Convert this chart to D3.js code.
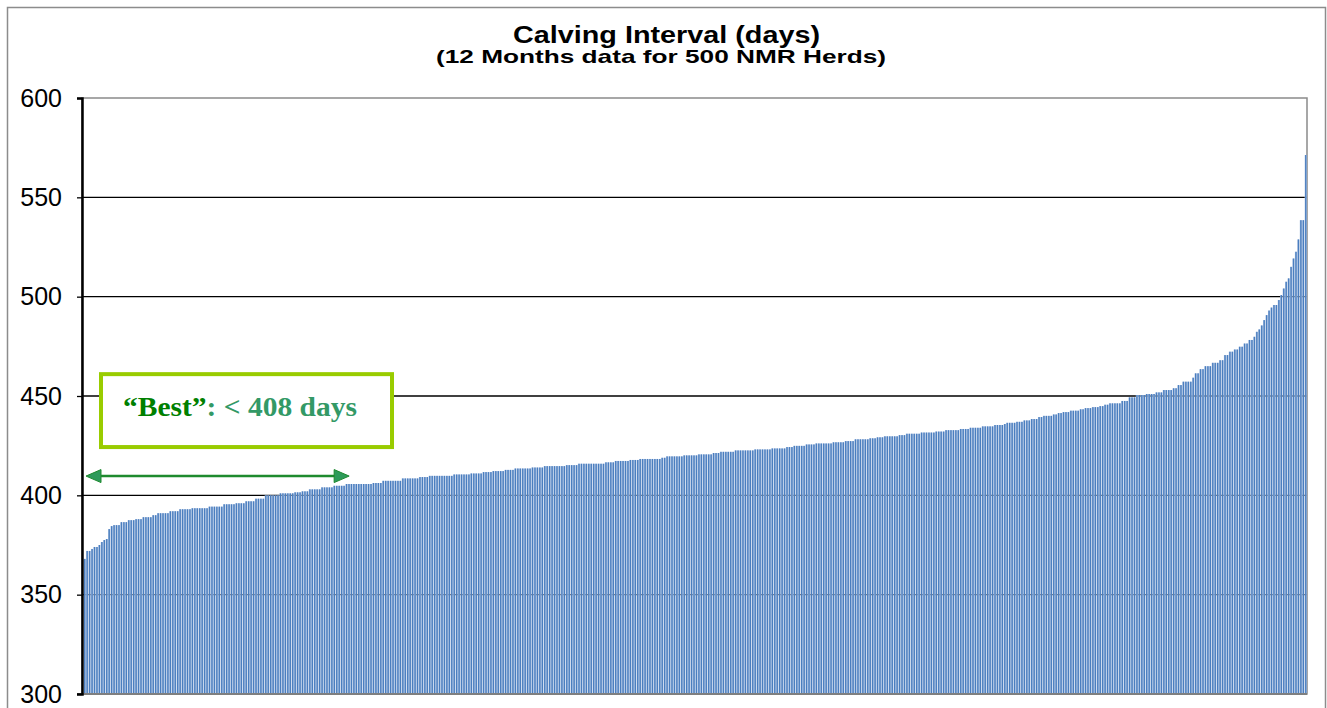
<!DOCTYPE html>
<html>
<head>
<meta charset="utf-8">
<script src="https://cdn.jsdelivr.net/npm/d3@7"></script>
<style>
  body { margin: 0; background: #fff; }
  svg { display: block; }
</style>
</head>
<body>
<div id="chart"></div>
<script>
/**
 * CONSTANTS AND DATA
 * */
const width = 1327,
  height = 708,
  margin = { top: 98, bottom: 14, left: 82, right: 20 };

const title = "Calving Interval (days)";
const subtitle = "(12 Months data for 500 NMR Herds)";
const yTicks = [300, 350, 400, 450, 500, 550, 600];

// herds sorted by calving interval in blocks of 100
const herds1 = [
  368, 372, 372, 373, 374, 374, 375, 376.5, 377.5, 378,
  383, 384.5, 385, 385, 385, 386.5, 386.5, 386.5, 387.5, 387.5,
  387.5, 388, 388, 388, 389, 389, 389, 389, 390, 390,
  391, 391, 391, 391, 391, 392, 392, 392, 392, 393,
  393, 393, 393, 393, 393.5, 393.5, 393.5, 393.5, 393.5, 393.5,
  393.5, 394.3, 394.3, 394.3, 394.3, 394.3, 394.3, 395.5, 395.5, 395.5,
  395.5, 395.5, 396, 396, 396, 396, 397, 397, 397, 397,
  398.3, 398.3, 398.3, 398.3, 400, 400, 400, 400, 400, 400,
  401, 401, 401, 401, 401, 401, 401.5, 401.5, 401.5, 402,
  402, 402, 403, 403, 403, 403, 403, 404, 404, 404
];
const herds2 = [
  404, 404, 404.8, 404.8, 404.8, 404.8, 404.8, 405.7, 405.7, 405.7,
  405.7, 405.7, 405.7, 405.7, 405.7, 405.7, 405.7, 405.7, 406.2, 406.2,
  406.2, 406.2, 407.3, 407.3, 407.3, 407.3, 407.3, 407.3, 407.3, 407.3,
  408.5, 408.5, 408.5, 408.5, 408.5, 408.5, 408.5, 409.2, 409.2, 409.2,
  409.2, 409.8, 409.8, 409.8, 409.8, 409.8, 409.8, 409.8, 409.8, 409.8,
  409.8, 410.5, 410.5, 410.5, 410.5, 410.5, 410.5, 410.5, 411, 411,
  411, 411, 411, 411.7, 411.7, 411.7, 411.7, 412.2, 412.2, 412.2,
  412.2, 412.2, 412.8, 412.8, 412.8, 412.8, 413.5, 413.5, 413.5, 413.5,
  413.5, 413.5, 413.5, 414, 414, 414, 414, 414, 414.7, 414.7,
  414.7, 414.7, 414.7, 414.7, 414.7, 414.7, 414.7, 415.2, 415.2, 415.2
];
const herds3 = [
  415.2, 415.2, 415.9, 415.9, 415.9, 415.9, 415.9, 415.9, 415.9, 415.9,
  415.9, 415.9, 415.9, 416.6, 416.6, 416.6, 416.6, 417.3, 417.3, 417.3,
  417.3, 417.3, 417.3, 417.8, 417.8, 417.8, 417.8, 418.3, 418.3, 418.3,
  418.3, 418.3, 418.3, 418.3, 418.3, 418.3, 418.9, 418.9, 419.6, 419.6,
  419.6, 419.6, 419.6, 419.6, 419.6, 420.1, 420.1, 420.1, 420.1, 420.1,
  420.1, 420.6, 420.6, 420.6, 420.6, 420.6, 420.6, 421.3, 421.3, 421.3,
  421.9, 421.9, 421.9, 421.9, 421.9, 421.9, 422.6, 422.6, 422.6, 422.6,
  422.6, 422.6, 422.6, 422.6, 423.1, 423.1, 423.1, 423.1, 423.1, 423.1,
  423.1, 423.6, 423.6, 423.6, 423.6, 423.6, 423.6, 424.3, 424.3, 424.3,
  424.9, 424.9, 424.9, 424.9, 424.9, 425.6, 425.6, 425.6, 425.6, 426.1
];
const herds4 = [
  426.1, 426.1, 426.1, 426.1, 426.1, 426.1, 426.7, 426.7, 426.7, 426.7,
  426.7, 427.3, 427.3, 427.3, 427.3, 428.2, 428.2, 428.2, 428.2, 428.2,
  428.2, 428.7, 428.7, 428.7, 429.2, 429.2, 429.2, 429.7, 429.7, 429.7,
  429.7, 429.7, 429.7, 430.3, 430.3, 430.3, 431, 431, 431, 431,
  431, 431, 431.6, 431.6, 431.6, 431.6, 431.6, 431.6, 432.1, 432.1,
  432.1, 432.1, 432.8, 432.8, 432.8, 432.8, 432.8, 432.8, 433.4, 433.4,
  433.4, 433.4, 434, 434, 434, 434, 434, 434.7, 434.7, 434.7,
  434.7, 434.7, 435.4, 435.4, 435.4, 435.4, 435.9, 436.5, 436.5, 436.5,
  436.5, 437, 437, 437, 437.7, 437.7, 437.7, 438.4, 438.4, 438.4,
  439.4, 439.4, 440, 440, 440, 440, 440.7, 440.7, 441.4, 441.4
];
const herds5 = [
  441.9, 441.9, 441.9, 442.6, 442.6, 442.6, 442.6, 443.3, 443.3, 443.9,
  443.9, 443.9, 444.4, 444.4, 444.4, 444.9, 444.9, 445.6, 445.6, 446.3,
  446.3, 446.3, 446.3, 446.3, 447.5, 447.5, 447.5, 449.3, 449.3, 449.3,
  450.5, 450.5, 450.5, 450.5, 451, 451, 451, 451, 451.8, 451.8,
  451.8, 453, 453, 453, 453, 453.9, 453.9, 455.5, 455.5, 457.2,
  457.2, 457.2, 457.2, 459.2, 461.4, 461.4, 463.5, 463.5, 465, 465,
  465, 466.7, 466.7, 466.7, 468, 468, 470.6, 470.6, 472.3, 472.3,
  473.4, 473.4, 474.8, 474.8, 476.4, 476.4, 478.2, 478.2, 479.8, 482.3,
  483.5, 485.5, 488.2, 490.7, 493, 494.5, 495.8, 495.8, 498.3, 500.8,
  504.1, 507.5, 509.2, 515, 519.2, 522.6, 528.8, 538.5, 538.5, 571.3
];

// annotation
const bestLabel = ["\u201cBest\u201d", ": < 408 days"];
const bestCount = 108;   // herds covered by the arrow

const values = [...herds1, ...herds2, ...herds3, ...herds4, ...herds5];

/**
 * DRAW
 * */
const svg = d3.select("#chart")
  .append("svg")
  .attr("width", width)
  .attr("height", height);

const x = d3.scaleBand()
  .domain(d3.range(values.length))
  .range([margin.left + 1.5, width - margin.right])
  .paddingInner(0.3)
  .paddingOuter(0.15);

const y = d3.scaleLinear()
  .domain([300, 600])
  .range([height - margin.bottom, margin.top]);

// outer chart frame
svg.append("rect")
  .attr("x", 7.5)
  .attr("y", 7.5)
  .attr("width", 1318)
  .attr("height", 720)
  .attr("fill", "none")
  .attr("stroke", "#8c8c8c")
  .attr("stroke-width", 1.5);

// titles (the source picture is stretched sideways, so fit the measured widths)
svg.append("text")
  .attr("x", 513)
  .attr("y", 43)
  .attr("textLength", 307)
  .attr("lengthAdjust", "spacingAndGlyphs")
  .style("font", "bold 23px Arial, 'Liberation Sans', sans-serif")
  .text(title);

svg.append("text")
  .attr("x", 436)
  .attr("y", 63)
  .attr("textLength", 450)
  .attr("lengthAdjust", "spacingAndGlyphs")
  .style("font", "bold 18.5px Arial, 'Liberation Sans', sans-serif")
  .text(subtitle);

// plot frame (top/right)
svg.append("rect")
  .attr("x", margin.left)
  .attr("y", margin.top)
  .attr("width", width - margin.right - margin.left)
  .attr("height", height - margin.bottom - margin.top)
  .attr("fill", "none")
  .attr("stroke", "#8a8a8a")
  .attr("stroke-width", 1.5);

// gridlines
svg.append("g")
  .selectAll("line")
  .data(yTicks.filter(d => d > 300 && d < 600))
  .join("line")
  .attr("x1", margin.left)
  .attr("x2", width - margin.right)
  .attr("y1", d => y(d))
  .attr("y2", d => y(d))
  .attr("stroke", "#000")
  .attr("stroke-width", 1.3);

// bars: light halo under a darker core, like the source rendering
const bars = svg.append("g")
  .selectAll("g")
  .data(values)
  .join("g");

bars.append("rect")
  .attr("x", (d, i) => x(i) - x.step() * 0.1)
  .attr("width", x.bandwidth() + x.step() * 0.2)
  .attr("y", d => y(d))
  .attr("height", d => y(300) - y(d))
  .attr("fill", "#b3c7e5");

bars.append("rect")
  .attr("x", (d, i) => x(i) + x.bandwidth() * 0.1)
  .attr("width", x.bandwidth() * 0.8)
  .attr("y", d => y(d))
  .attr("height", d => y(300) - y(d))
  .attr("fill", "#4a7ebf");

// x axis baseline
svg.append("line")
  .attr("x1", margin.left - 5)
  .attr("x2", width - margin.right)
  .attr("y1", y(300))
  .attr("y2", y(300))
  .attr("stroke", "#7f7f7f")
  .attr("stroke-width", 2);

// y axis
const yAxis = svg.append("g")
  .attr("transform", `translate(${margin.left},0)`)
  .call(d3.axisLeft(y).tickValues(yTicks).tickSize(5).tickPadding(15));

yAxis.select(".domain").attr("stroke", "#000").attr("stroke-width", 2.5);
yAxis.selectAll(".tick line").attr("stroke", "#000").attr("stroke-width", 1.3);
yAxis.selectAll(".tick text")
  .attr("fill", "#000")
  .style("font", "25px Arial, 'Liberation Sans', sans-serif");

// "Best" box
const boxTop = y(461), boxBottom = y(424.3);
svg.append("rect")
  .attr("x", 101)
  .attr("y", boxTop)
  .attr("width", 291)
  .attr("height", boxBottom - boxTop)
  .attr("fill", "#fff")
  .attr("stroke", "#99cc00")
  .attr("stroke-width", 4);

const label = svg.append("text")
  .attr("x", 123)
  .attr("y", y(440))
  .attr("textLength", 234)
  .attr("lengthAdjust", "spacingAndGlyphs")
  .style("font", "bold 27px 'Times New Roman', 'Liberation Serif', serif");
label.append("tspan").attr("fill", "#008000").text(bestLabel[0]);
label.append("tspan").attr("fill", "#339966").text(bestLabel[1]);

// double arrow across the best herds
const arrowY = y(409.7);
const ax0 = margin.left + 4, ax1 = x(bestCount) + 1;
const head = 15, half = 6.5;
svg.append("line")
  .attr("x1", ax0 + head - 2)
  .attr("x2", ax1 - head + 2)
  .attr("y1", arrowY)
  .attr("y2", arrowY)
  .attr("stroke", "#1e8a2e")
  .attr("stroke-width", 2.5);

svg.append("path")
  .attr("d", `M${ax0},${arrowY} L${ax0 + head},${arrowY - half} L${ax0 + head},${arrowY + half} Z`)
  .attr("fill", "#2e9a5a")
  .attr("stroke", "#1e8a2e")
  .attr("stroke-width", 1);

svg.append("path")
  .attr("d", `M${ax1},${arrowY} L${ax1 - head},${arrowY - half} L${ax1 - head},${arrowY + half} Z`)
  .attr("fill", "#2e9a5a")
  .attr("stroke", "#1e8a2e")
  .attr("stroke-width", 1);
</script>
</body>
</html>
